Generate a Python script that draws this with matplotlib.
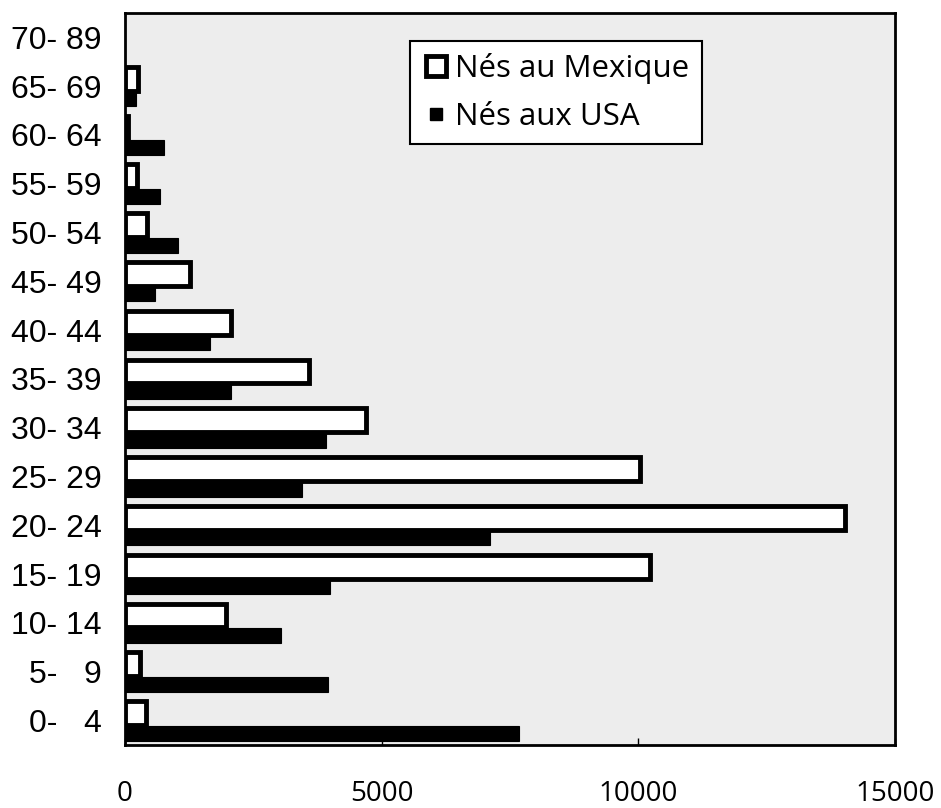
"""Horizontal grouped bars: population by age group, born in Mexico vs born in the USA."""

import matplotlib

matplotlib.use("Agg")
import matplotlib.pyplot as plt
import numpy as np
from matplotlib.lines import Line2D

# top to bottom, as on the chart
age_groups = ["70- 89", "65- 69", "60- 64", "55- 59", "50- 54", "45- 49", "40- 44",
              "35- 39", "30- 34", "25- 29", "20- 24", "15- 19", "10- 14", "5-   9", "0-   4"]
born_mexico = [0, 260, 60, 240, 430, 1260, 2060, 3590, 4700, 10030, 14030, 10220, 1960, 300, 400]
born_usa = [0, 215, 755, 685, 1035, 585, 1655, 2070, 3925, 3455, 7110, 3985, 3045, 3945, 7675]
x_ticks = [0, 5000, 10000, 15000]

fig = plt.figure(figsize=(9.41, 8.08), dpi=100)
ax = fig.add_axes([125 / 941, 1 - 745 / 808, 770 / 941, 732 / 808])
ax.set_facecolor("#ededed")

y = np.arange(len(age_groups))
# empty groups get no outline, so nothing shows for them
ax.barh(y - 0.154, born_mexico, height=0.49, color="white", edgecolor="black",
        linewidth=[3.5 if v else 0 for v in born_mexico], zorder=3)
ax.barh(y + 0.256, born_usa, height=0.31, color="black", edgecolor="black",
        linewidth=[0.8 if v else 0 for v in born_usa], zorder=2)

ax.set_xlim(0, 15000)
ax.set_ylim(len(age_groups) - 0.5, -0.5)
ax.set_yticks(y)
ax.set_yticklabels(age_groups, family="Liberation Sans", fontsize=23)
ax.set_xticks(x_ticks)
ax.set_xticklabels([str(t) for t in x_ticks], family="Open Sans", fontsize=20)
ax.tick_params(axis="y", length=0, pad=17)
ax.tick_params(axis="x", direction="in", length=5, width=1, pad=25)
for s in ax.spines.values():
    s.set_linewidth(2)
    s.set_color("black")

handles = [
    Line2D([], [], linestyle="none", marker="s", markersize=15, markerfacecolor="white",
           markeredgecolor="black", markeredgewidth=3.5),
    Line2D([], [], linestyle="none", marker="s", markersize=9, markerfacecolor="black",
           markeredgecolor="black"),
]
leg = ax.legend(handles, ["Nés au Mexique", "Nés aux USA"], loc="upper left",
                bbox_to_anchor=(0.370, 0.962), borderaxespad=0, fancybox=False,
                framealpha=1, edgecolor="black", handlelength=0.9, handletextpad=0.15,
                labelspacing=0.55, borderpad=0.4,
                prop={"family": "Open Sans", "size": 22.5})
leg.get_frame().set_linewidth(1.5)

fig.savefig("out.png", dpi=100)
